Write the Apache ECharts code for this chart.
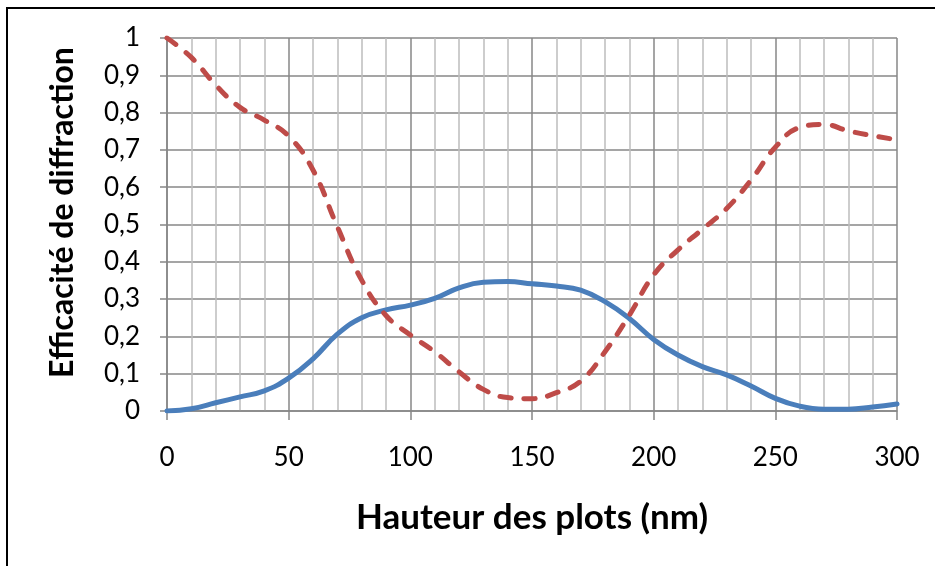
<!DOCTYPE html>
<html>
<head>
<meta charset="utf-8">
<script src="https://cdn.jsdelivr.net/npm/echarts@6/dist/echarts.min.js"></script>
<style>
  html, body { margin: 0; padding: 0; background: #fff; }
  #chart { width: 935px; height: 566px; }
</style>
</head>
<body>
<div id="chart"></div>
<script>
// Hauteur des plots (nm)
const hauteur = [0, 10, 20, 30, 40, 50, 60, 70, 80, 90, 100, 110, 120, 130, 140, 150,
                 160, 170, 180, 190, 200, 210, 220, 230, 240, 250, 260, 270, 280, 290, 300];

// Efficacité de diffraction, ordre 1 (trait plein)
const effOrdre1 = [0.000, 0.006, 0.022, 0.038, 0.054, 0.088, 0.140, 0.206, 0.250, 0.271, 0.284,
                   0.302, 0.330, 0.345, 0.347, 0.341, 0.335, 0.324, 0.293, 0.248, 0.192,
                   0.150, 0.119, 0.097, 0.067, 0.034, 0.013, 0.005, 0.005, 0.011, 0.019];

// Efficacité de diffraction, ordre 0 (tirets)
const effOrdre0 = [1.000, 0.948, 0.874, 0.814, 0.780, 0.737, 0.646, 0.494, 0.351, 0.256, 0.204,
                   0.159, 0.105, 0.058, 0.036, 0.033, 0.049, 0.080, 0.159, 0.257, 0.365,
                   0.432, 0.487, 0.543, 0.619, 0.707, 0.760, 0.768, 0.751, 0.738, 0.727];

const xTicks = ['0', '50', '100', '150', '200', '250', '300'];
const yTicks = ['0', '0,1', '0,2', '0,3', '0,4', '0,5', '0,6', '0,7', '0,8', '0,9', '1'];

const font = 'Lato, "Open Sans", sans-serif';
const majorGrey = '#878787';
const minorGrey = '#bdbdbd';

const chart = echarts.init(document.getElementById('chart'), null, { renderer: 'canvas' });

chart.setOption({
  animation: false,
  backgroundColor: '#fff',
  graphic: [{
    type: 'rect',
    shape: { x: 7, y: 8, width: 1000, height: 1000 },
    style: { fill: 'none', stroke: '#000', lineWidth: 2 },
    silent: true
  }],
  grid: { left: 167, top: 38, width: 730, height: 373, containLabel: false },
  xAxis: {
    type: 'value',
    min: 0, max: 300, interval: 50,
    name: 'Hauteur des plots (nm)',
    nameLocation: 'middle',
    nameGap: 89,
    nameTextStyle: { fontFamily: font, fontWeight: 'bold', fontSize: 35, color: '#000' },
    axisLine: { show: true, lineStyle: { color: majorGrey, width: 1.5 } },
    axisTick: { show: true, length: 9, lineStyle: { color: majorGrey, width: 1.5 } },
    axisLabel: {
      fontFamily: font, fontSize: 26, color: '#000', margin: 34,
      formatter: v => xTicks[Math.round(v / 50)]
    },
    splitLine: { show: true, lineStyle: { color: majorGrey, width: 1.5 } },
    minorTick: { show: false, splitNumber: 5 },
    minorSplitLine: { show: true, lineStyle: { color: minorGrey, width: 1.5 } }
  },
  yAxis: {
    type: 'value',
    min: 0, max: 1, interval: 0.1,
    name: 'Efficacité de diffraction',
    nameLocation: 'middle',
    nameGap: 88,
    nameTextStyle: { fontFamily: font, fontWeight: 'bold', fontSize: 32, color: '#000', padding: [0, 0, 0, 24] },
    axisLine: { show: true, lineStyle: { color: majorGrey, width: 1.5 } },
    axisTick: { show: true, length: 7, lineStyle: { color: majorGrey, width: 1.5 } },
    axisLabel: {
      fontFamily: font, fontSize: 26, color: '#000', margin: 27,
      formatter: v => yTicks[Math.round(v * 10)]
    },
    splitLine: { show: true, lineStyle: { color: majorGrey, width: 1.5 } }
  },
  series: [
    {
      name: 'Ordre 1',
      type: 'line',
      data: hauteur.map((h, i) => [h, effOrdre1[i]]),
      smooth: 0.45,
      showSymbol: false,
      lineStyle: { color: '#4a7ebb', width: 5, cap: 'round', join: 'round' },
      z: 3
    },
    {
      name: 'Ordre 0',
      type: 'line',
      data: hauteur.map((h, i) => [h, effOrdre0[i]]),
      smooth: 0.45,
      showSymbol: false,
      lineStyle: { color: '#be4b48', width: 5, type: [11, 13], cap: 'round', join: 'round' },
      z: 4
    }
  ]
});
</script>
</body>
</html>
